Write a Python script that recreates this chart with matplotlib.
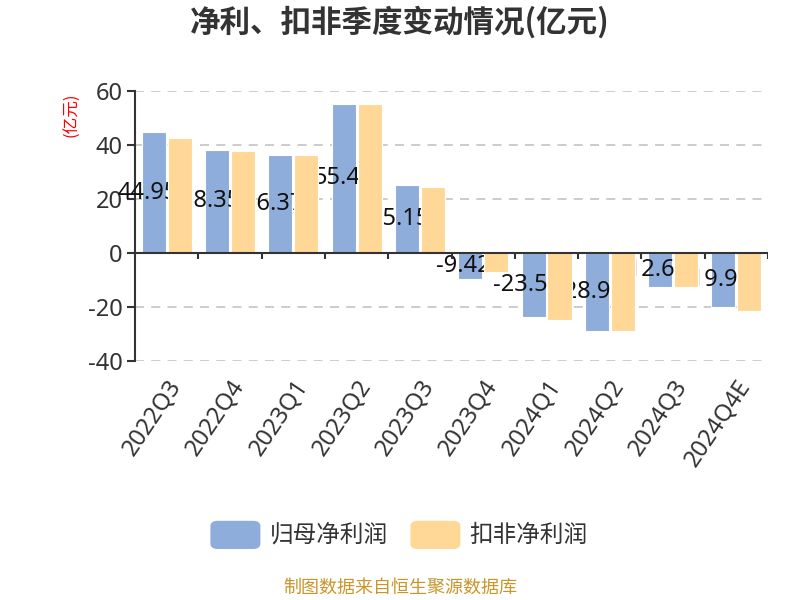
import numpy as np
import matplotlib
matplotlib.use("Agg")
import matplotlib.pyplot as plt
from matplotlib.patches import FancyBboxPatch

plt.rcParams['font.family'] = ['Noto Sans', 'Noto Sans CJK SC', 'DejaVu Sans']
plt.rcParams['axes.unicode_minus'] = False

# -------------------------
# DATA
# -------------------------
quarters = ["2022Q3", "2022Q4", "2023Q1", "2023Q2", "2023Q3",
            "2023Q4", "2024Q1", "2024Q2", "2024Q3", "2024Q4E"]
net_profit = [44.95, 38.35, 36.37, 55.4, 25.15,
              -9.42, -23.58, -28.95, -12.63, -19.94]
net_profit_adj = [42.7, 37.9, 36.2, 55.1, 24.7,
                  -6.9, -24.6, -28.9, -12.5, -21.4]

c_blue = "#8eaddb"
c_orange = "#ffd898"
cjk = ['Noto Sans CJK SC', 'DejaVu Sans']

# -------------------------
# PLOTTING
# -------------------------
fig = plt.figure(figsize=(8, 6), dpi=100)
ax = fig.add_axes([0.169, 0.398, 0.791, 0.45])

x = np.arange(len(quarters))
w = 0.38
# blue bars -> labels -> orange bars (orange covers part of the labels)
ax.bar(x - 0.205, net_profit, w, color=c_blue, edgecolor="white", linewidth=0.8, zorder=2)
ax.bar(x + 0.205, net_profit_adj, w, color=c_orange, edgecolor="white", linewidth=0.8, zorder=4)

for i, v in enumerate(net_profit):
    ax.annotate(f"{v:g}", xy=(i - 0.205, v / 2), xytext=(-4.7, 0),
                textcoords="offset points", ha="center", va="center",
                fontsize=17, color="#111111", zorder=3)

ax.set_xlim(-0.5, len(quarters) - 0.5)
ax.set_ylim(-40, 60)
ax.set_yticks([-40, -20, 0, 20, 40, 60])
ax.tick_params(axis="y", labelsize=17, labelcolor="#333333", length=6,
               width=1.5, color="#333333", pad=3)

for yv in [-40, -20, 20, 40, 60]:
    ax.axhline(yv, color="#c8c8c8", linestyle=(0, (5, 4)), linewidth=1.3, zorder=1)

# zero axis line with ticks at category boundaries
ax.axhline(0, color="#333333", linewidth=1.5, zorder=5)
bounds = np.arange(len(quarters) + 1) - 0.5
ax.vlines(bounds[1:], -2.2, 0, color="#333333", linewidth=1.5, zorder=5)

ax.set_xticks(x)
ax.set_xticklabels(quarters, rotation=56, ha="right", rotation_mode="anchor",
                   fontsize=17, color="#333333")
ax.tick_params(axis="x", length=0, pad=10)

for s in ["top", "right", "bottom"]:
    ax.spines[s].set_visible(False)
ax.spines["left"].set_color("#333333")
ax.spines["left"].set_linewidth(1.5)

# titles and texts
fig.text(0.5, 0.962, "净利、扣非季度变动情况(亿元)", ha="center", va="center",
         fontsize=22, fontweight="bold", color="#333333", family=cjk)
fig.text(0.09, 0.808, "(亿元)", rotation=90, ha="center", va="center",
         fontsize=12, color="red", family=cjk)

# legend
for lx, col, lab in [(0.263, c_blue, "归母净利润"), (0.513, c_orange, "扣非净利润")]:
    p = FancyBboxPatch((lx, 0.085), 0.0625, 0.047,
                       boxstyle="round,pad=0,rounding_size=0.009",
                       transform=fig.transFigure, facecolor=col, edgecolor="none")
    fig.patches.append(p)
    fig.text(lx + 0.074, 0.108, lab, ha="left", va="center", fontsize=17,
             color="#333333", family=cjk)

fig.text(0.5, 0.02, "制图数据来自恒生聚源数据库", ha="center", va="center",
         fontsize=13, color="#c8962a", family=cjk)

plt.savefig("out.png", dpi=100)
